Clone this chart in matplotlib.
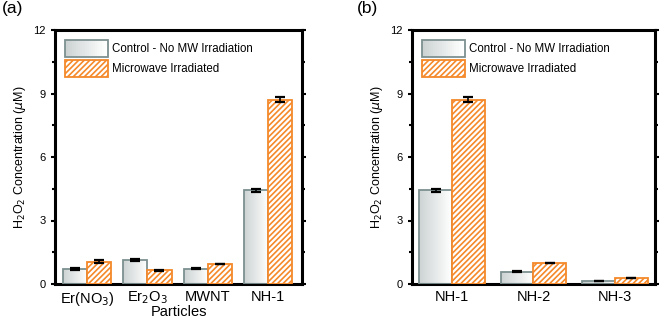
import numpy as np
import matplotlib
matplotlib.use('Agg')
from matplotlib import pyplot as plt
from matplotlib.patches import Rectangle
from matplotlib.legend_handler import HandlerBase
from matplotlib.colors import LinearSegmentedColormap

plt.rcParams['font.family'] = ['Liberation Sans', 'DejaVu Sans']
plt.rcParams['hatch.color'] = '#f5892a'
plt.rcParams['hatch.linewidth'] = 1.2

# ============================================================
# data
# ============================================================
cats_a = ['Er(NO$_3$)', 'Er$_2$O$_3$', 'MWNT', 'NH-1']
ctrl_a = [0.71, 1.13, 0.73, 4.42]
ctrl_a_err = [0.03, 0.03, 0.03, 0.06]
mw_a = [1.06, 0.65, 0.93, 8.70]
mw_a_err = [0.06, 0.03, 0.0, 0.12]

cats_b = ['NH-1', 'NH-2', 'NH-3']
ctrl_b = [4.42, 0.58, 0.16]
ctrl_b_err = [0.06, 0.02, 0.0]
mw_b = [8.70, 0.98, 0.27]
mw_b_err = [0.12, 0.0, 0.0]

yticks = [0, 3, 6, 9, 12]

GRAY_EDGE = '#7d9090'
ORANGE = '#f5892a'
grad = LinearSegmentedColormap.from_list('g', ['#cdd3d3', '#ffffff'])


class GradHandler(HandlerBase):
    def create_artists(self, legend, orig_handle, xdescent, ydescent,
                       width, height, fontsize, trans):
        arts = []
        n = 20
        for i in range(n):
            arts.append(Rectangle((-xdescent + width * i / n, -ydescent), width / n + 0.3, height,
                                  facecolor=grad(i / (n - 1)), edgecolor='none', transform=trans))
        arts.append(Rectangle((-xdescent, -ydescent), width, height, facecolor='none',
                              edgecolor=GRAY_EDGE, lw=1.3, transform=trans))
        return arts


def panel(ax, cats, ctrl, ctrl_err, mw, mw_err, xlim):
    x = np.arange(len(cats))
    w = 0.4
    bars = ax.bar(x - w / 2, ctrl, w, facecolor='none', edgecolor=GRAY_EDGE, lw=1.3, zorder=3)
    # gradient fill of the control bars
    for b in bars:
        x0, y0 = b.get_x(), b.get_y()
        im = ax.imshow(np.linspace(0, 1, 50).reshape(1, -1), cmap=grad, aspect='auto',
                       extent=[x0, x0 + b.get_width(), y0, y0 + b.get_height()], zorder=2)
        im.set_clip_path(b)
    ax.bar(x + w / 2, mw, w, facecolor='white', edgecolor=ORANGE, hatch='//////', lw=1.3, zorder=3)
    ax.errorbar(x - w / 2, ctrl, yerr=ctrl_err, fmt='none', ecolor='black', elinewidth=1.2,
                capsize=3.5, capthick=1.6, zorder=4)
    ax.errorbar(x + w / 2, mw, yerr=mw_err, fmt='none', ecolor='black', elinewidth=1.2,
                capsize=3.5, capthick=1.6, zorder=4)
    ax.set_xlim(xlim)
    ax.set_ylim(0, 12)
    ax.set_xticks(x)
    ax.set_xticklabels(cats, fontsize=10.5)
    ax.set_yticks(yticks)
    ax.set_yticks(np.arange(1.5, 12, 3), minor=True)
    ax.tick_params(axis='y', which='both', right=True, direction='out', labelsize=8, width=1.5)
    ax.tick_params(axis='y', which='major', length=3)
    ax.tick_params(axis='y', which='minor', length=2)
    ax.tick_params(axis='x', length=0, pad=4)
    for s in ax.spines.values():
        s.set_linewidth(2.2)
    ax.set_ylabel('H$_2$O$_2$ Concentration ($\\mu$M)', fontsize=9)
    h1 = Rectangle((0, 0), 1, 1)
    h2 = Rectangle((0, 0), 1, 1, facecolor='white', edgecolor=ORANGE, hatch='//////', lw=1.3)
    ax.legend([h1, h2], ['Control - No MW Irradiation', 'Microwave Irradiated'],
              handler_map={h1: GradHandler()}, frameon=False, fontsize=8.3,
              loc='upper left', bbox_to_anchor=(0.0, 1.0), handlelength=3.7, handleheight=1.85,
              labelspacing=0.28, handletextpad=0.35, borderaxespad=0.5)


fig = plt.figure(figsize=(6.61, 3.22), dpi=100)
ax1 = fig.add_axes([55 / 661, 1 - 284 / 322, 247 / 661, 254 / 322])
ax2 = fig.add_axes([412 / 661, 1 - 284 / 322, 243 / 661, 254 / 322])
panel(ax1, cats_a, ctrl_a, ctrl_a_err, mw_a, mw_a_err, (-0.53, 3.56))
panel(ax2, cats_b, ctrl_b, ctrl_b_err, mw_b, mw_b_err, (-0.49, 2.49))
ax1.set_xlabel('Particles', fontsize=10.5, labelpad=-2)
fig.text(2 / 661, 1 - 1 / 322, '(a)', fontsize=12.5, va='top', ha='left')
fig.text(357 / 661, 1 - 1 / 322, '(b)', fontsize=12.5, va='top', ha='left')

fig.savefig('out.png', dpi=100)
